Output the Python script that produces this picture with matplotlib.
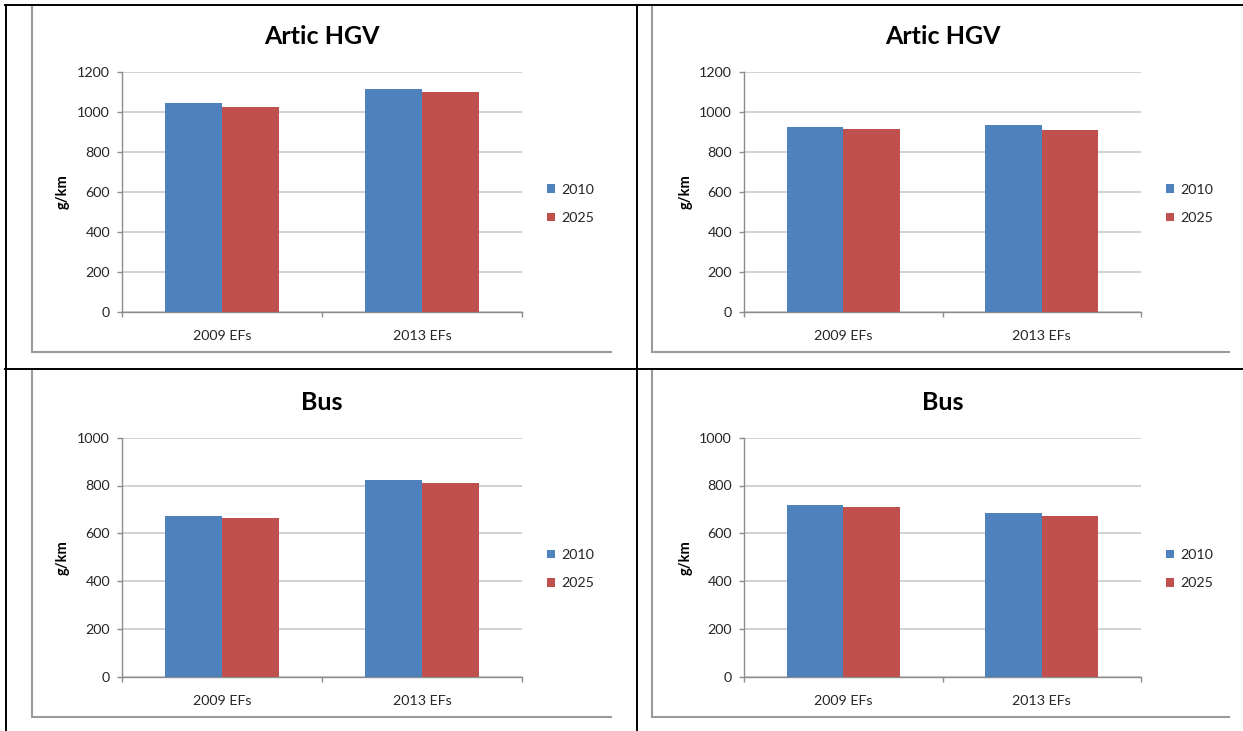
import matplotlib
matplotlib.use("Agg")
import matplotlib.pyplot as plt
from matplotlib.lines import Line2D
from matplotlib.ticker import FixedLocator
import numpy as np

plt.rcParams['font.family'] = ['Lato', 'DejaVu Sans']

# ---- data -------------------------------------------------------------
categories = ['2009 EFs', '2013 EFs']
series_names = ['2010', '2025']

hgv_left_2010 = [1047, 1117]
hgv_left_2025 = [1023, 1100]
hgv_right_2010 = [926, 934]
hgv_right_2025 = [915, 911]
bus_left_2010 = [672, 821]
bus_left_2025 = [664, 810]
bus_right_2010 = [720, 685]
bus_right_2025 = [708, 672]

titles = ['Artic HGV', 'Artic HGV', 'Bus', 'Bus']
y_max = [1200, 1200, 1000, 1000]
y_step = 200
y_label = 'g/km'

series_colors = ['#4F81BD', '#C0504D']

# ---- page geometry (pixels) -------------------------------------------
W, H = 1243, 731
fig = plt.figure(figsize=(W / 100, H / 100), dpi=100)
fig.patch.set_facecolor('white')


def fig_line(xs, ys, **kw):
    fig.add_artist(Line2D([x / W for x in xs], [1 - y / H for y in ys],
                          transform=fig.transFigure, **kw))


def px_rect(l, t, r, b):
    return [l / W, 1 - b / H, (r - l) / W, (b - t) / H]


panels = [
    (px_rect(122, 72, 522, 312), hgv_left_2010, hgv_left_2025),
    (px_rect(744, 72, 1141, 312), hgv_right_2010, hgv_right_2025),
    (px_rect(122, 437.7, 522, 676.7), bus_left_2010, bus_left_2025),
    (px_rect(744, 437.7, 1141, 676.7), bus_right_2010, bus_right_2025),
]

axis_grey = '#8c8c8c'
grid_grey = '#c9c9c9'
text_col = '#262626'
gap = 1.5                      # gap width between groups, in bar widths
bar_w = 1.0 / (len(series_names) + gap)

for i, (rect, s2010, s2025) in enumerate(panels):
    ax = fig.add_axes(rect)
    x = np.arange(len(categories))
    vals = [s2010, s2025]
    for k, (name, v) in enumerate(zip(series_names, vals)):
        offset = (k - (len(series_names) - 1) / 2) * bar_w
        ax.bar(x + offset, v, width=bar_w, color=series_colors[k],
               label=name, zorder=3, linewidth=0)

    ax.set_xlim(-0.5, len(categories) - 0.5)
    ax.set_ylim(0, y_max[i])
    ax.set_yticks(np.arange(0, y_max[i] + 1, y_step))
    ax.set_xticks(x)
    ax.set_xticklabels(categories)
    ax.xaxis.set_minor_locator(FixedLocator(np.arange(-0.5, len(categories), 1.0)))

    ax.tick_params(axis='x', which='major', length=0, pad=13,
                   labelsize=10.3, labelcolor=text_col)
    ax.tick_params(axis='x', which='minor', length=3.6, width=1,
                   color=axis_grey, direction='out')
    ax.tick_params(axis='y', which='major', length=3.6, width=1,
                   color=axis_grey, direction='out', pad=5,
                   labelsize=10.3, labelcolor=text_col)

    for side in ('top', 'right'):
        ax.spines[side].set_visible(False)
    for side in ('left', 'bottom'):
        ax.spines[side].set_color(axis_grey)
        ax.spines[side].set_linewidth(1)
    ax.grid(axis='y', color=grid_grey, linewidth=1.2, zorder=0)
    ax.set_axisbelow(True)

    ax.set_ylabel(y_label, fontsize=10.5, fontweight='bold', color='black')
    ax.yaxis.set_label_coords(-0.13, 0.5)

    ax.text(0.5, 1 + 35 / 240, titles[i], transform=ax.transAxes,
            ha='center', va='center', fontsize=18, fontweight='bold',
            color='black')

    leg = ax.legend(loc='center left', frameon=False, fontsize=10.3,
                    bbox_to_anchor=(1 + 25 / 400, 1 - 132 / 240),
                    handlelength=0.55, handleheight=0.55,
                    handletextpad=0.45, labelspacing=1.15, borderpad=0,
                    borderaxespad=0)
    for t in leg.get_texts():
        t.set_color(text_col)

# ---- chart frames (grey left/bottom border of each embedded chart) ------
frame_col = '#9a9a9a'
for (x0, y0, y1, x1) in [(31.5, 5, 352, 611), (651.5, 5, 352, 1229),
                          (31.5, 370, 716.5, 611), (651.5, 370, 716.5, 1229)]:
    fig_line([x0, x0, x1], [y0, y1, y1], color=frame_col, linewidth=1.5,
             solid_joinstyle='miter')

# ---- table rules ---------------------------------------------------------
rule = dict(color='black', linewidth=1.4)
fig_line([5, W], [5, 5], **rule)
fig_line([6, 6], [5, H], **rule)
fig_line([636.5, 636.5], [5, H], **rule)
fig_line([5, W], [369, 369], **rule)

fig.savefig('out.png', dpi=100, facecolor='white')
